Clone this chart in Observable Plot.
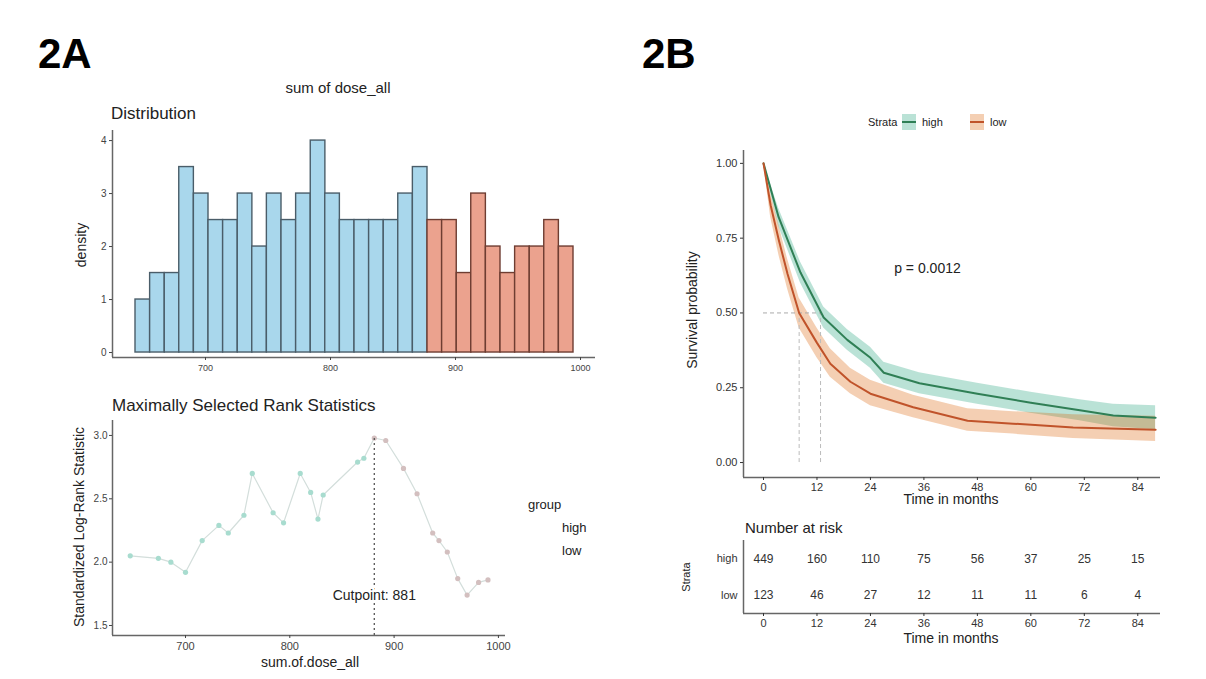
<!DOCTYPE html>
<html><head><meta charset="utf-8">
<script src="https://cdn.jsdelivr.net/npm/d3@7"></script>
<script src="https://cdn.jsdelivr.net/npm/@observablehq/plot@0.6"></script>
<style>
html,body{margin:0;padding:0;background:#fff;}
#root{position:relative;width:1206px;height:679px;overflow:hidden;background:#fff;}
#root svg{position:absolute;left:0;top:0;}
</style></head><body><div id="root"></div>
<script>
const FONT = '"Liberation Sans", Arial, sans-serif';

// ---------- 2A : distribution (histogram of sum of dose_all) ----------
const histBinLo = [644,655.7,667.4,679.0,690.7,702.4,714.1,725.8,737.4,749.1,760.8,772.5,784.2,795.8,807.5,819.2,830.9,842.6,854.2,865.9,877.6,889.3,901.0,912.6,924.3,936.0,947.7,959.4,971.0,982.7];
const histBinWidth = 11.7;
const histDensity = [1.0,1.5,1.5,3.5,3.0,2.5,2.5,3.0,2.0,3.0,2.5,3.0,4.0,3.0,2.5,2.5,2.5,2.5,3.0,3.5,2.5,2.5,1.5,3.0,2.0,1.5,2.0,2.0,2.5,2.0];
const histYTicks = [0,1,2,3,4];
const doseTicks = [700,800,900,1000];
const cutpoint = 881;
const groupNames = ["high","low"];

// ---------- 2A : maximally selected rank statistics ----------
const statDose  = [647,674,686,700,716,732,741,756,764,784,794,810,820,827,832,865,871,881,892,909,922,937,943,951,961,970,981,990];
const statValue = [2.05,2.03,2.00,1.92,2.17,2.29,2.23,2.37,2.70,2.39,2.31,2.70,2.55,2.34,2.53,2.79,2.82,2.98,2.96,2.74,2.54,2.23,2.17,2.08,1.87,1.74,1.84,1.86];
const statYTicks = [1.5,2.0,2.5,3.0];

// ---------- 2B : Kaplan-Meier ----------
const strata = ["high","low"];
const strataColors = ["#1B9E77","#D95F02"];
const strataLineColors = ["#2f7f55","#c0532a"];
const highTime  = [0,3.4,8.3,13.5,18.8,24,27,35,48,60,71,78.5,88];
const highSurv  = [1,0.82,0.635,0.485,0.41,0.35,0.30,0.265,0.23,0.20,0.175,0.157,0.15];
const highLower = [1,0.79,0.60,0.45,0.375,0.315,0.265,0.23,0.195,0.165,0.14,0.12,0.11];
const highUpper = [1,0.85,0.67,0.52,0.445,0.385,0.335,0.30,0.265,0.235,0.21,0.195,0.19];
const lowTime  = [0,1.6,3.5,5.4,8,12,15,19.5,24,33.6,45.8,56,69.5,88];
const lowSurv  = [1,0.86,0.74,0.63,0.50,0.40,0.33,0.27,0.23,0.185,0.14,0.13,0.117,0.11];
const lowLower = [1,0.82,0.69,0.58,0.45,0.35,0.285,0.23,0.19,0.15,0.105,0.095,0.08,0.07];
const lowUpper = [1,0.90,0.79,0.68,0.55,0.45,0.38,0.315,0.275,0.225,0.18,0.17,0.16,0.155];
const medianTime = [12.8, 8];
const survTicks = [0,0.25,0.5,0.75,1];
const pValueText = "p = 0.0012";
const riskTimes = [0,12,24,36,48,60,72,84];
const riskHigh = [449,160,110,75,56,37,25,15];
const riskLow  = [123,46,27,12,11,11,6,4];

// ---------- build tables ----------
const hist = histBinLo.map((lo,i)=>({lo, hi: lo+histBinWidth, d: histDensity[i], group: lo >= cutpoint - 4 ? "high" : "low"}));
const stat = statDose.map((x,i)=>({x, y: statValue[i], group: x >= cutpoint ? "high" : "low"}));
const km = [
  ...highTime.map((t,i)=>({t, s: highSurv[i], lo: highLower[i], hi: highUpper[i], g: strata[0]})),
  ...lowTime.map((t,i)=>({t, s: lowSurv[i], lo: lowLower[i], hi: lowUpper[i], g: strata[1]}))
];
const risk = [
  ...riskTimes.map((t,i)=>({t, n: riskHigh[i], row: 0.5})),
  ...riskTimes.map((t,i)=>({t, n: riskLow[i], row: 1.5}))
];

const root = document.getElementById("root");
const baseStyle = {fontFamily: FONT, background: "transparent", overflow: "visible"};

// Histogram
const hX = [625.6, 1012], hY = [-0.094, 4.19];
root.appendChild(Plot.plot({
  width: 1206, height: 679, marginLeft: 112, marginRight: 611, marginTop: 130, marginBottom: 322,
  x: {domain: hX}, y: {domain: hY},
  style: {...baseStyle, fontSize: "9px", color: "#444"},
  marks: [
    Plot.rectY(hist.filter(d=>d.group==="low"), {x1:"lo", x2:"hi", y1:0, y2:"d", fill:"#a9d7ec", stroke:"#4a5d69", strokeWidth:1.4}),
    Plot.rectY(hist.filter(d=>d.group==="high"), {x1:"lo", x2:"hi", y1:0, y2:"d", fill:"#eba28e", stroke:"#6e3d32", strokeWidth:1.4}),
    Plot.ruleX([hX[0]], {stroke:"#666", strokeWidth:1.5}),
    Plot.ruleY([hY[0]], {stroke:"#666", strokeWidth:1.5}),
    Plot.axisY({ticks: histYTicks, tickSize: 3, tickPadding: 3, label: null, fontSize: 10, tickFormat: d=>String(d)}),
    Plot.axisX({ticks: doseTicks, tickSize: 3, tickPadding: 4, label: null, tickFormat: d=>String(d)})
  ]
}));

// Maximally selected rank statistics
const sX = [630, 1006.8], sY = [1.421, 3.118];
root.appendChild(Plot.plot({
  width: 1206, height: 679, marginLeft: 112, marginRight: 701, marginTop: 420, marginBottom: 44,
  x: {domain: sX}, y: {domain: sY},
  style: {...baseStyle, fontSize: "10px", color: "#444"},
  marks: [
    Plot.line(stat, {x:"x", y:"y", stroke:"#d3dedb", strokeWidth:1.2}),
    Plot.dot(stat, {x:"x", y:"y", r:2.6, fill: d=>d.group==="low" ? "#a8dccf" : "#d3bfbf", stroke:"none"}),
    Plot.ruleX([cutpoint], {y1: sY[0], y2: d3.max(statValue), stroke:"#555", strokeWidth:1.3, strokeDasharray:"2,3"}),
    Plot.text([cutpoint], {x: d=>d, y: 1.74, text: d=>"Cutpoint: " + d, fontSize: 14, fill:"#222", stroke:"white", strokeWidth:5}),
    Plot.ruleX([sX[0]], {stroke:"#666", strokeWidth:1.5}),
    Plot.ruleY([sY[0]], {stroke:"#666", strokeWidth:1.5}),
    Plot.axisY({ticks: statYTicks, tickSize: 3, tickPadding: 2, label: null, tickFormat: d3.format(".1f")}),
    Plot.axisX({ticks: doseTicks, tickSize: 3, tickPadding: 4, label: null, fontSize: 11, tickFormat: d=>String(d)})
  ]
}));

// Kaplan-Meier
const kX = [-4.49, 89.1], kY = [-0.05, 1.043];
root.appendChild(Plot.plot({
  width: 1206, height: 679, marginLeft: 743, marginRight: 46, marginTop: 150, marginBottom: 202,
  x: {domain: kX}, y: {domain: kY},
  style: {...baseStyle, fontSize: "11px", color: "#333"},
  marks: [
    Plot.areaY(km.filter(d=>d.g===strata[0]), {x:"t", y1:"lo", y2:"hi", fill: strataColors[0], fillOpacity: 0.3}),
    Plot.areaY(km.filter(d=>d.g===strata[1]), {x:"t", y1:"lo", y2:"hi", fill: strataColors[1], fillOpacity: 0.3}),
    Plot.ruleY([0.5], {x1: 0, x2: d3.max(medianTime), stroke:"#aaa", strokeWidth:1, strokeDasharray:"4,3"}),
    Plot.ruleX(medianTime, {y1: 0, y2: 0.5, stroke:"#bbb", strokeWidth:1, strokeDasharray:"4,3"}),
    Plot.line(km.filter(d=>d.g===strata[0]), {x:"t", y:"s", stroke: strataLineColors[0], strokeWidth: 2}),
    Plot.line(km.filter(d=>d.g===strata[1]), {x:"t", y:"s", stroke: strataLineColors[1], strokeWidth: 2}),
    Plot.text([pValueText], {x: 36.8, y: 0.65, text: d=>d, fontSize: 14, fill:"#222"}),
    Plot.ruleX([kX[0]], {stroke:"#666", strokeWidth:1.5}),
    Plot.ruleY([kY[0]], {stroke:"#666", strokeWidth:1.5}),
    Plot.axisY({ticks: survTicks, tickSize: 3, tickPadding: 3, label: null, tickFormat: d3.format(".2f")}),
    Plot.axisX({ticks: riskTimes, tickSize: 3, tickPadding: 3, label: null})
  ]
}));

// Risk table
const rY = [2, 0];
root.appendChild(Plot.plot({
  width: 1206, height: 679, marginLeft: 743, marginRight: 46, marginTop: 540, marginBottom: 66,
  x: {domain: kX}, y: {domain: rY},
  style: {...baseStyle, fontSize: "11px", color: "#333"},
  marks: [
    Plot.text(risk, {x:"t", y:"row", text:"n", fontSize: 12, fill:"#333"}),
    Plot.ruleX([kX[0]], {stroke:"#666", strokeWidth:1.5}),
    Plot.ruleY([rY[0]], {stroke:"#666", strokeWidth:1.5}),
    Plot.axisY({ticks: [0.5, 1.5], tickSize: 0, tickPadding: 6, label: null, tickFormat: d=> strata[Math.floor(d)], fontSize: 11}),
    Plot.axisX({ticks: riskTimes, tickSize: 3, tickPadding: 3, label: null})
  ]
}));

// Text annotations
const ann = d3.select(root).append("svg").attr("width",1206).attr("height",679).style("font-family", FONT);
function T(x,y,s,o={}){
  const t = ann.append("text").attr("x",x).attr("y",y).text(s)
    .attr("font-size", o.size||12).attr("fill", o.fill||"#222")
    .attr("text-anchor", o.anchor||"start").attr("font-weight", o.weight||"normal");
  if (o.rotate) t.attr("transform", `rotate(${o.rotate},${x},${y})`);
  return t;
}
T(38, 68, "2A", {size:42, weight:"bold", fill:"#000"});
T(642, 68, "2B", {size:42, weight:"bold", fill:"#000"});
T(338, 93, "sum of dose_all", {size:15, anchor:"middle"});
T(111, 119, "Distribution", {size:17});
T(86, 245, "density", {size:14, anchor:"middle", rotate:-90});
T(112, 411, "Maximally Selected Rank Statistics", {size:17});
T(84, 527, "Standardized Log-Rank Statistic", {size:14, anchor:"middle", rotate:-90});
T(310, 667, "sum.of.dose_all", {size:14, anchor:"middle"});
T(528, 509, "group", {size:13});
T(562, 532, groupNames[0], {size:13});
T(562, 555, groupNames[1], {size:13});
// KM legend
T(868, 126, "Strata", {size:11});
ann.append("rect").attr("x",902).attr("y",114).attr("width",14).attr("height",16).attr("fill",strataColors[0]).attr("fill-opacity",0.3);
ann.append("line").attr("x1",902).attr("x2",916).attr("y1",122).attr("y2",122).attr("stroke",strataLineColors[0]).attr("stroke-width",2);
T(922, 126, strata[0], {size:11});
ann.append("rect").attr("x",970).attr("y",114).attr("width",14).attr("height",16).attr("fill",strataColors[1]).attr("fill-opacity",0.3);
ann.append("line").attr("x1",970).attr("x2",984).attr("y1",122).attr("y2",122).attr("stroke",strataLineColors[1]).attr("stroke-width",2);
T(990, 126, strata[1], {size:11});
T(697, 310, "Survival probability", {size:14, anchor:"middle", rotate:-90});
T(951, 504, "Time in months", {size:14, anchor:"middle"});
T(745, 533, "Number at risk", {size:15});
T(690, 577, "Strata", {size:11, anchor:"middle", rotate:-90});
T(951, 643, "Time in months", {size:14, anchor:"middle"});
</script></body></html>
